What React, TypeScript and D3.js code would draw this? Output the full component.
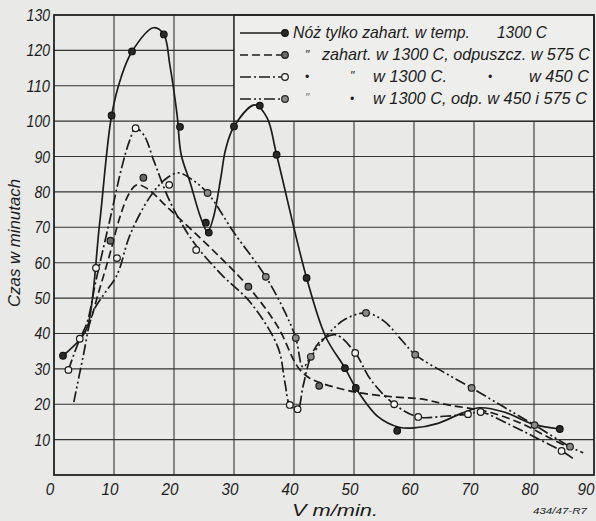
import React from "react";
import * as d3 from "d3";

// tick values
const xTicks = [0, 10, 20, 30, 40, 50, 60, 70, 80, 90];
const yTicks = [10, 20, 30, 40, 50, 60, 70, 80, 90, 100, 110, 120, 130];

// curve 1: solid - "Nóż tylko zahart."
const solidCurve: [number, number][] = [
  [1.5, 33.7], [4.3, 38.3], [5.6, 42], [7.6, 71], [9.6, 101.6], [11.2, 112.5], [13, 119.7],
  [16.6, 126.4], [18.3, 124.5], [19.3, 116], [20.5, 102], [21.2, 90.5], [22.7, 82.6],
  [24.4, 73], [25.6, 68.7], [26.6, 73], [27.8, 84], [28.6, 92], [30, 98.5], [33.5, 104.6],
  [35.5, 101], [37.1, 90.5], [42.1, 55.7], [45.3, 39], [48.5, 30.2], [50.3, 24.6],
  [54, 16.5], [57.5, 13.5], [60, 13.3], [64, 14.6], [68, 17.5], [71, 19], [75, 17.8],
  [80, 14.3], [84.3, 13],
];
const solidMarks: [number, number][] = [
  [1.5, 33.7], [9.6, 101.6], [13, 119.7], [18.3, 124.5], [21, 98.4], [25.3, 71.3],
  [25.8, 68.5], [30, 98.5], [34.3, 104.4], [37.1, 90.5], [42.1, 55.7], [48.5, 30.2],
  [50.3, 24.6], [57.2, 12.5], [84.3, 13],
];

// curve 2: dashed - odpuszcz. w 575 C
const dashCurve: [number, number][] = [
  [4.5, 39], [5.7, 42], [7.5, 52], [9.4, 63], [11, 73], [12.5, 79.5], [13.8, 82],
  [15.5, 81], [19, 75.5], [23.3, 68.7], [28, 61], [32.4, 53.2], [37.3, 41.9], [40.6, 30.6],
  [42.5, 27.5], [44.5, 26], [50, 23.5], [57, 22], [61.2, 21.5], [65.7, 19.8], [72, 18],
  [78, 14.5], [82, 11], [86, 7.6],
];
const dashMarks: [number, number][] = [
  [9.4, 66.2], [14.9, 84], [32.4, 53.2], [44.2, 25.2],
];

// curve 3: dash-dot, open circles - w 450 C
const dotCurve: [number, number][] = [
  [2.4, 29.7], [4.3, 38.5], [5.5, 43], [7, 55], [9.3, 72], [11.3, 87], [12.6, 94.5],
  [13.6, 98], [15, 96], [16.6, 89], [19.4, 77], [23.3, 65.7], [28, 56.5], [32.8, 48.6],
  [37.3, 36.2], [38.5, 26], [39.3, 19.8], [40.6, 18.6], [41.5, 25], [42.8, 33.4],
  [44.5, 38], [47, 39.6], [50.2, 34.5], [52.8, 26.9], [56.7, 20], [60.7, 16.4],
  [65, 16.6], [69, 17.2], [71.1, 17.8], [76, 14.2], [80, 10.8], [84.6, 6.8], [86.8, 4.3],
];
const dotMarks: [number, number][] = [
  [2.4, 29.7], [4.3, 38.5], [7, 58.5], [10.5, 61.3], [13.6, 98], [19.2, 82], [23.7, 63.6],
  [39.3, 19.8], [40.6, 18.6], [50.2, 34.5], [56.7, 20], [60.7, 16.4], [69, 17.2],
  [71.1, 17.8], [84.6, 6.8],
];

// curve 4: dash-dot-dot - odp. w 450 i 575 C
const dot2Curve: [number, number][] = [
  [3.3, 20.6], [4.8, 33], [6.5, 46], [8.5, 51.5], [10.5, 56.5], [12.7, 68], [16, 78.6],
  [18.5, 83.5], [20.7, 85.4], [23, 83.5], [25.6, 79.7], [30, 68.5], [35.3, 56], [38.5, 46],
  [40.3, 38.7], [41.5, 30.5], [42.8, 33.4], [45.5, 39.5], [48.5, 44], [52, 45.8],
  [55, 43.5], [58, 38], [60.2, 34], [65, 29], [69.6, 24.6], [75, 19.2], [80.1, 14.1],
  [86, 8], [88.2, 6.3],
];
const dot2Marks: [number, number][] = [
  [25.6, 79.7], [35.3, 56], [40.3, 38.7], [42.8, 33.4], [52, 45.8], [60.2, 34],
  [69.6, 24.6], [80.1, 14.1], [86, 8],
];

const FONT = "'Liberation Sans', 'DejaVu Sans', sans-serif";
const INK = "#1c1c1c";

const series = [
  { curve: solidCurve, marks: solidMarks, dash: "none", fill: "#2a2a2a", stroke: "#111" },
  { curve: dashCurve, marks: dashMarks, dash: "8,4", fill: "#6a6a6a", stroke: "#1a1a1a" },
  { curve: dotCurve, marks: dotMarks, dash: "11,3,2,3", fill: "#f2f2f2", stroke: "#1a1a1a" },
  { curve: dot2Curve, marks: dot2Marks, dash: "11,3,2,3,2,3", fill: "#8a8a8a", stroke: "#222" },
];

export default function App() {
  const W = 596, H = 521;
  const x = d3.scaleLinear().domain([0, 90]).range([54, 594]);
  const y = d3.scaleLinear().domain([0, 130]).range([475, 15]);
  const line = d3.line<[number, number]>()
    .x(d => x(d[0]))
    .y(d => y(d[1]))
    .curve(d3.curveCatmullRom.alpha(0.5));

  const legY = [33, 55, 77, 99];
  const lx0 = 240, lx1 = 284;

  return (
    <div style={{ position: "absolute", left: 0, top: 0 }}>
      <svg width={W} height={H} style={{ display: "block", background: "#e9e9e7" }}>
        <rect x={0} y={0} width={W} height={H} fill="#e9e9e7" />
        {/* grid */}
        <g stroke="#333" strokeWidth={1.1}>
          {xTicks.slice(1, -1).map(t => (
            <line key={"gx" + t} x1={x(t)} x2={x(t)} y1={y(0)} y2={y(130)} />
          ))}
          {yTicks.slice(0, -1).map(t => (
            <line key={"gy" + t} x1={x(0)} x2={x(90)} y1={y(t)} y2={y(t)} />
          ))}
        </g>
        {/* legend box */}
        <rect x={x(30)} y={y(130)} width={x(90) - x(30)} height={y(100) - y(130)}
          fill="#eeeeec" stroke="#222" strokeWidth={1.4} />
        <rect x={x(0)} y={y(130)} width={x(90) - x(0)} height={y(0) - y(130)}
          fill="none" stroke="#222" strokeWidth={1.8} />

        {/* curves */}
        {series.map((s, i) => (
          <path key={"c" + i} d={line(s.curve) || ""} fill="none" stroke={INK}
            strokeWidth={1.7} strokeDasharray={s.dash} strokeLinejoin="round" />
        ))}
        {series.map((s, i) => (
          <g key={"m" + i}>
            {s.marks.map((d, j) => (
              <circle key={j} cx={x(d[0])} cy={y(d[1])} r={3.3} fill={s.fill}
                stroke={s.stroke} strokeWidth={1.2} />
            ))}
          </g>
        ))}

        {/* legend content */}
        {series.map((s, i) => (
          <g key={"l" + i}>
            <line x1={lx0} x2={lx1} y1={legY[i]} y2={legY[i]} stroke={INK} strokeWidth={1.7}
              strokeDasharray={s.dash} />
            <circle cx={lx1 + 1} cy={legY[i]} r={3.3} fill={s.fill} stroke={s.stroke} strokeWidth={1.2} />
          </g>
        ))}
        <g fontFamily={FONT} fontStyle="italic" fontSize={17} fill={INK}>
          <text x={293} y={38} textLength={177} lengthAdjust="spacingAndGlyphs">Nóż tylko zahart. w temp.</text>
          <text x={497} y={38} textLength={50} lengthAdjust="spacingAndGlyphs">1300 C</text>
          <text x={305} y={59} fontSize={12}>"</text>
          <text x={322} y={60} textLength={268} lengthAdjust="spacingAndGlyphs">zahart. w 1300 C, odpuszcz. w 575 C</text>
          <text x={305} y={81} fontSize={12}>•</text>
          <text x={350} y={80} fontSize={12}>"</text>
          <text x={373} y={82} textLength={74} lengthAdjust="spacingAndGlyphs">w 1300 C.</text>
          <text x={488} y={81} fontSize={12}>•</text>
          <text x={529} y={82} textLength={60} lengthAdjust="spacingAndGlyphs">w 450 C</text>
          <text x={305} y={102} fontSize={12} fill="#777">"</text>
          <text x={350} y={103} fontSize={12}>•</text>
          <text x={373} y={104} textLength={214} lengthAdjust="spacingAndGlyphs">w 1300 C, odp. w 450 i 575 C</text>
        </g>

        {/* axis tick labels */}
        <g fontFamily={FONT} fontStyle="italic" fontSize={17} fill={INK}>
          {yTicks.map(t => (
            <text key={"yl" + t} x={50} y={y(t) + 6} textAnchor="end"
              textLength={String(t).length * 7.8} lengthAdjust="spacingAndGlyphs">{t}</text>
          ))}
          {xTicks.map(t => (
            <text key={"xl" + t} x={Math.min(x(t) - 4, 586)} y={495} textAnchor="middle"
              textLength={String(t).length * 8.5} lengthAdjust="spacingAndGlyphs">{t}</text>
          ))}
          <text x={292} y={516} fontSize={17} textLength={86} lengthAdjust="spacingAndGlyphs">V m/min.</text>
          <text transform="translate(20,243) rotate(-90)" textAnchor="middle" fontSize={17}
            textLength={128} lengthAdjust="spacingAndGlyphs">Czas w minutach</text>
          <text x={533} y={514} fontSize={9} textLength={54} lengthAdjust="spacingAndGlyphs">434/47-R7</text>
        </g>
      </svg>
    </div>
  );
}
